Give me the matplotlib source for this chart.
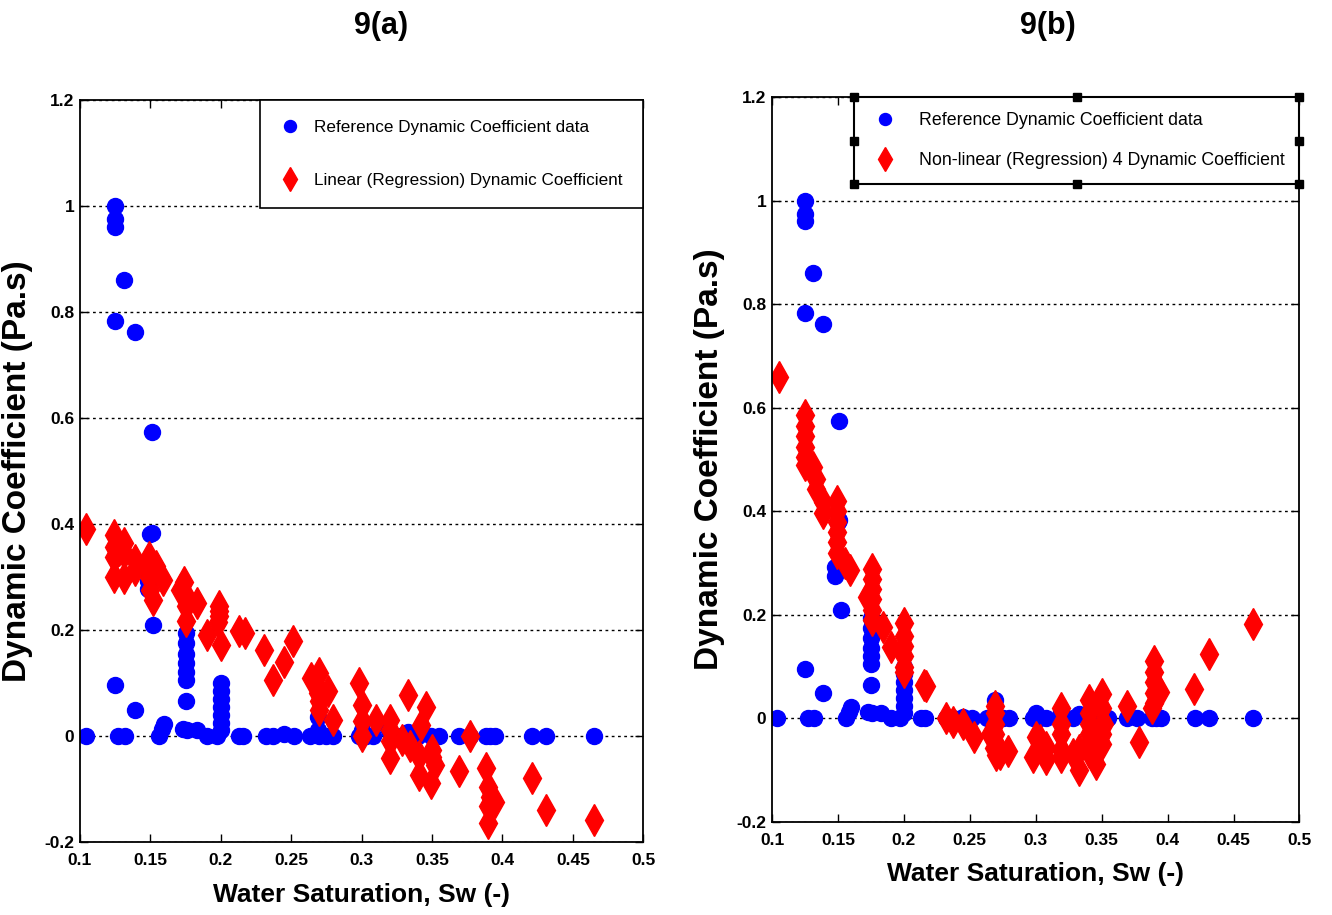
import matplotlib
matplotlib.use("Agg")
import matplotlib.pyplot as plt
from matplotlib.patches import Rectangle

plt.rcParams['font.family'] = ['Liberation Sans', 'DejaVu Sans']

# reference dynamic coefficient data (shared by both panels)
blue_sw = [0.104, 0.125, 0.125, 0.125, 0.125, 0.125, 0.127, 0.131, 0.132, 0.139,
           0.139, 0.151, 0.151, 0.150, 0.148, 0.148, 0.152, 0.156, 0.158, 0.160,
           0.173, 0.175, 0.175, 0.175, 0.175, 0.175, 0.175, 0.175, 0.176, 0.183,
           0.190, 0.197, 0.200, 0.200, 0.200, 0.200, 0.200, 0.200, 0.200, 0.213,
           0.216, 0.232, 0.237, 0.245, 0.252, 0.263, 0.269, 0.269, 0.270, 0.275,
           0.280, 0.298, 0.300, 0.303, 0.308, 0.319, 0.320, 0.328, 0.333, 0.340,
           0.349, 0.355, 0.369, 0.377, 0.388, 0.391, 0.395, 0.421, 0.431, 0.465]
blue_dc = [0.0, 1.0, 0.975, 0.96, 0.783, 0.095, 0.0, 0.86, 0.0, 0.762,
           0.049, 0.574, 0.383, 0.38, 0.292, 0.276, 0.209, 0.0, 0.012, 0.022,
           0.012, 0.194, 0.175, 0.155, 0.137, 0.12, 0.105, 0.065, 0.01, 0.01,
           0.0, 0.0, 0.1, 0.085, 0.07, 0.055, 0.04, 0.025, 0.01, 0.0,
           0.0, 0.0, 0.0, 0.003, 0.0, 0.0, 0.035, 0.01, 0.0, 0.0,
           0.0, 0.0, 0.011, 0.0, 0.0, 0.015, 0.005, 0.0, 0.008, 0.0,
           0.0, 0.0, 0.0, 0.0, 0.0, 0.0, 0.0, 0.0, 0.0, 0.0]

# linear regression dynamic coefficient
lin_sw = [0.104, 0.124, 0.124, 0.124, 0.124, 0.128, 0.131, 0.131, 0.131, 0.139,
          0.139, 0.149, 0.149, 0.149, 0.150, 0.152, 0.154, 0.159, 0.171, 0.174,
          0.175, 0.175, 0.175, 0.183, 0.190, 0.199, 0.199, 0.199, 0.198, 0.200,
          0.213, 0.217, 0.231, 0.237, 0.245, 0.251, 0.264, 0.270, 0.269, 0.270,
          0.270, 0.276, 0.280, 0.267, 0.298, 0.300, 0.300, 0.300, 0.310, 0.320,
          0.320, 0.320, 0.320, 0.329, 0.333, 0.334, 0.342, 0.341, 0.341, 0.346,
          0.350, 0.350, 0.349, 0.352, 0.369, 0.377, 0.388, 0.390, 0.391, 0.395,
          0.390, 0.390, 0.421, 0.431, 0.465]
lin_dc = [0.39, 0.379, 0.357, 0.338, 0.30, 0.35, 0.364, 0.345, 0.298, 0.332,
          0.313, 0.338, 0.32, 0.30, 0.275, 0.257, 0.32, 0.294, 0.275, 0.291,
          0.263, 0.245, 0.216, 0.25, 0.19, 0.244, 0.235, 0.226, 0.215, 0.172,
          0.197, 0.194, 0.162, 0.106, 0.14, 0.178, 0.109, 0.118, 0.08, 0.049,
          0.065, 0.084, 0.03, 0.1, 0.099, 0.058, 0.027, 0.0, 0.03, 0.03,
          0.01, -0.01, -0.042, -0.008, 0.077, -0.02, 0.021, -0.039, -0.074, 0.055,
          -0.026, -0.04, -0.089, -0.055, -0.067, 0.0, -0.061, -0.096, -0.115, -0.124,
          -0.133, -0.165, -0.08, -0.14, -0.158]

# non-linear (4) regression dynamic coefficient
nl_sw = [0.105, 0.125, 0.125, 0.125, 0.125, 0.125, 0.125, 0.131, 0.133, 0.133,
         0.139, 0.139, 0.149, 0.149, 0.149, 0.149, 0.149, 0.149, 0.155, 0.159,
         0.172, 0.176, 0.176, 0.176, 0.176, 0.176, 0.176, 0.184, 0.190, 0.200,
         0.200, 0.200, 0.200, 0.200, 0.200, 0.215, 0.217, 0.232, 0.237, 0.245,
         0.253, 0.269, 0.269, 0.269, 0.269, 0.269, 0.265, 0.268, 0.273, 0.279,
         0.270, 0.298, 0.300, 0.303, 0.308, 0.308, 0.319, 0.319, 0.319, 0.319,
         0.319, 0.328, 0.333, 0.333, 0.340, 0.340, 0.340, 0.340, 0.340, 0.340,
         0.346, 0.350, 0.350, 0.350, 0.350, 0.350, 0.352, 0.369, 0.378, 0.390,
         0.390, 0.390, 0.390, 0.390, 0.388, 0.394, 0.420, 0.431, 0.465]
nl_dc = [0.66, 0.585, 0.565, 0.545, 0.525, 0.505, 0.49, 0.486, 0.463, 0.444,
         0.418, 0.396, 0.42, 0.40, 0.38, 0.36, 0.34, 0.32, 0.30, 0.286,
         0.234, 0.288, 0.27, 0.25, 0.23, 0.21, 0.19, 0.176, 0.138, 0.185,
         0.16, 0.14, 0.12, 0.10, 0.09, 0.064, 0.062, 0.0, -0.007, -0.01,
         -0.036, 0.025, 0.01, -0.01, -0.03, -0.045, -0.03, -0.058, -0.068, -0.062,
         -0.07, -0.075, -0.036, -0.042, -0.055, -0.078, 0.02, -0.01, -0.03, -0.06,
         -0.075, -0.068, -0.1, -0.06, 0.035, 0.01, -0.01, -0.03, -0.05, -0.065,
         -0.088, 0.048, 0.02, -0.01, -0.03, -0.049, -0.01, 0.025, -0.046, 0.11,
         0.09, 0.07, 0.05, 0.03, 0.02, 0.051, 0.057, 0.125, 0.183]

x_ticks = [0.1, 0.15, 0.2, 0.25, 0.3, 0.35, 0.4, 0.45, 0.5]
y_ticks = [-0.2, 0, 0.2, 0.4, 0.6, 0.8, 1.0, 1.2]


def style_axes(ax, xlabel_pad):
    ax.set_xlim(0.1, 0.5)
    ax.set_ylim(-0.2, 1.2)
    ax.set_xticks(x_ticks)
    ax.set_xticklabels([f"{t:g}" for t in x_ticks])
    ax.set_yticks(y_ticks)
    ax.set_yticklabels([f"{t:g}" for t in y_ticks])
    ax.tick_params(direction='in', length=6, width=1, top=True, right=True,
                   labelsize=12.5)
    ax.tick_params(axis='x', pad=8)
    ax.tick_params(axis='y', pad=4)
    for lab in ax.get_xticklabels() + ax.get_yticklabels():
        lab.set_fontweight('bold')
    for sp in ax.spines.values():
        sp.set_linewidth(1.3)
    ax.yaxis.grid(True, color='black', linestyle=(0, (2, 2.5)), linewidth=1)
    ax.set_axisbelow(True)
    ax.set_xlabel("Water Saturation, Sw (-)", fontsize=19, fontweight='bold',
                  labelpad=xlabel_pad)
    ax.set_ylabel("Dynamic Coefficient (Pa.s)", fontsize=24, fontweight='bold', labelpad=8)


fig = plt.figure(figsize=(13.32, 9.15), dpi=100)
ax1 = fig.add_axes([0.060, 0.080, 0.423, 0.811])
ax2 = fig.add_axes([0.5796, 0.1016, 0.396, 0.7924])

ax1.plot(blue_sw, blue_dc, 'o', color='#0000ff', markersize=11.5, linestyle='none',
         label='Reference Dynamic Coefficient data')
ax1.plot(lin_sw, lin_dc, 'd', color='#ff0000', markersize=16, linestyle='none',
         label='Linear (Regression) Dynamic Coefficient')
style_axes(ax1, 11)
leg1 = ax1.legend(loc='upper right', borderaxespad=0, fancybox=False, edgecolor='black',
                  framealpha=1, fontsize=12.3, markerscale=0.75, labelspacing=2.2,
                  borderpad=1.2, handletextpad=0.8, handlelength=1.2)
leg1.get_frame().set_linewidth(1.2)

ax2.plot(blue_sw, blue_dc, 'o', color='#0000ff', markersize=11.5, linestyle='none',
         label='Reference Dynamic Coefficient data')
ax2.plot(nl_sw, nl_dc, 'd', color='#ff0000', markersize=16, linestyle='none',
         label='Non-linear (Regression) 4 Dynamic Coefficient')
style_axes(ax2, 10)
leg2 = ax2.legend(loc='upper right', borderaxespad=0, fancybox=False, edgecolor='black',
                  framealpha=1, fontsize=12.8, markerscale=0.75, labelspacing=1.3,
                  borderpad=0.85, handletextpad=1.0, handlelength=1.8)
leg2.get_frame().set_linewidth(1.5)

fig.text(0.286, 0.972, "9(a)", ha='center', va='center', fontsize=22, fontweight='bold')
fig.text(0.787, 0.972, "9(b)", ha='center', va='center', fontsize=22, fontweight='bold')

# selection handles round the second legend
fig.canvas.draw()
bb = leg2.get_window_extent()
W, H = fig.bbox.width, fig.bbox.height
hs = 8
for px in (bb.x0, (bb.x0 + bb.x1) / 2, bb.x1):
    for py in (bb.y0, (bb.y0 + bb.y1) / 2, bb.y1):
        if px == (bb.x0 + bb.x1) / 2 and py == (bb.y0 + bb.y1) / 2:
            continue
        fig.patches.append(Rectangle(((px - hs / 2) / W, (py - hs / 2) / H), hs / W, hs / H,
                                     transform=fig.transFigure, facecolor='black',
                                     edgecolor='black', zorder=10))

fig.savefig("out.png", dpi=100)
